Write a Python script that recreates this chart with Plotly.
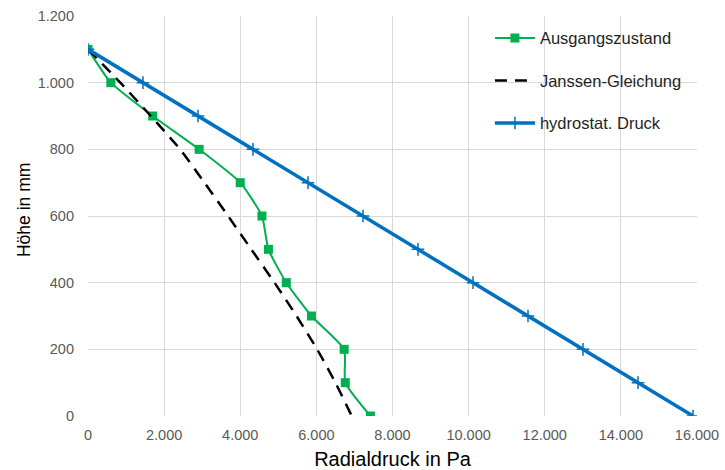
import plotly.graph_objects as go

# Höhe über dem Boden (mm)
hoehe = [1100, 1000, 900, 800, 700, 600, 500, 400, 300, 200, 100, 0]

# Gemessener Radialdruck im Ausgangszustand (Pa)
ausgangszustand = [0, 600, 1700, 2920, 4000, 4570, 4740, 5210, 5870, 6730, 6760, 7420]

# Radialdruck nach Janssen-Gleichung (Pa)
janssen = [0, 850, 1650, 2420, 3060, 3680, 4290, 4900, 5480, 6020, 6500, 6930]

# Hydrostatischer Druck (Pa)
hydrostat = [0, 1445, 2890, 4335, 5780, 7225, 8670, 10115, 11560, 13005, 14450, 15895]

x_ticks = [0, 2000, 4000, 6000, 8000, 10000, 12000, 14000, 16000]
x_labels = ["0", "2.000", "4.000", "6.000", "8.000", "10.000", "12.000", "14.000", "16.000"]
y_ticks = [0, 200, 400, 600, 800, 1000, 1200]
y_labels = ["0", "200", "400", "600", "800", "1.000", "1.200"]

FONT = "Liberation Sans, Arial, sans-serif"

fig = go.Figure()

fig.add_trace(go.Scatter(
    x=ausgangszustand, y=hoehe, name="Ausgangszustand",
    mode="lines+markers", legendgroup="a",
    line=dict(color="#00b050", width=2, shape="spline", smoothing=0.5),
    marker=dict(symbol="square", size=9, color="#00b050"),
))

fig.add_trace(go.Scatter(
    x=janssen, y=hoehe, name="Janssen-Gleichung",
    mode="lines", legendgroup="b",
    line=dict(color="#000000", width=2.5, dash="12px,8px", shape="spline", smoothing=0.6),
))

fig.add_trace(go.Scatter(
    x=hydrostat, y=hoehe, name="hydrostat. Druck",
    mode="lines+markers", legendgroup="c",
    line=dict(color="#0070c0", width=3.5),
    marker=dict(symbol="cross-thin", size=9, color="#0070c0",
                line=dict(color="#0070c0", width=1.5)),
))

fig.update_layout(
    width=725, height=470,
    margin=dict(l=88, r=28, t=16, b=54),
    paper_bgcolor="white", plot_bgcolor="white",
    font=dict(family=FONT, color="#595959"),
    showlegend=True,
    legend=dict(
        x=0.66, y=0.988, xanchor="left", yanchor="top",
        bgcolor="rgba(255,255,255,0)",
        font=dict(family=FONT, size=16.5, color="#1f1f1f"),
        traceorder="grouped", tracegroupgap=18,
        itemwidth=40,
    ),
    xaxis=dict(
        range=[0, 16000], automargin=False,
        tickvals=x_ticks, ticktext=x_labels,
        showgrid=True, gridcolor="#d9d9d9", gridwidth=1,
        zeroline=False, showline=False,
        ticks="", tickfont=dict(size=14.5, color="#595959"),
        ticklabelstandoff=8,
        title=dict(text="Radialdruck in Pa", font=dict(size=20, color="#000000"), standoff=10),
    ),
    yaxis=dict(
        range=[0, 1200], automargin=False,
        tickvals=y_ticks, ticktext=y_labels,
        showgrid=True, gridcolor="#d9d9d9", gridwidth=1,
        zeroline=False, showline=False,
        ticks="", tickfont=dict(size=14.5, color="#595959"),
        ticklabelstandoff=13,
    ),
    annotations=[dict(
        text="Höhe in mm", textangle=-90,
        xref="paper", yref="paper", x=-0.105, y=0.515,
        xanchor="center", yanchor="middle", showarrow=False,
        font=dict(family=FONT, size=17.5, color="#000000"),
    )],
)

fig.write_html("out.html")
